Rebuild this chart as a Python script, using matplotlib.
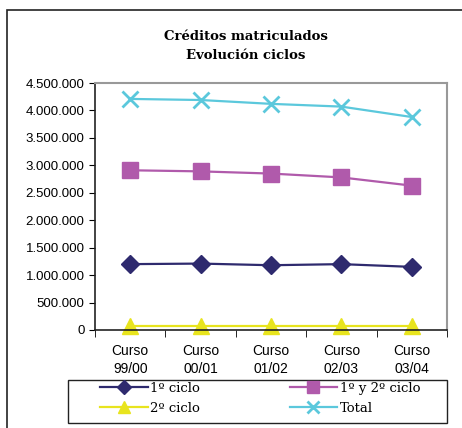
import matplotlib.pyplot as plt
from matplotlib.patches import Rectangle

cursos = ["Curso\n99/00", "Curso\n00/01", "Curso\n01/02", "Curso\n02/03", "Curso\n03/04"]
primer_ciclo = [1200000, 1210000, 1180000, 1200000, 1150000]
primer_segundo = [2910000, 2890000, 2850000, 2780000, 2630000]
segundo_ciclo = [80000, 80000, 80000, 80000, 80000]
total = [4210000, 4190000, 4120000, 4070000, 3880000]
yticks = [0, 500000, 1000000, 1500000, 2000000, 2500000, 3000000, 3500000, 4000000, 4500000]

fig = plt.figure(figsize=(4.62, 4.28), dpi=100)
ax = fig.add_axes([95 / 462, 1 - 330 / 428, 352 / 462, 247 / 428])

# outer frame (only left and top visible)
fig.patches.append(Rectangle((7 / 462, -0.1), 1.2, 1 - 10 / 428 + 0.1,
                             transform=fig.transFigure, fill=False,
                             edgecolor="#222222", linewidth=1.2))
# legend box
fig.patches.append(Rectangle((68 / 462, 1 - 423 / 428), 379 / 462, 43 / 428,
                             transform=fig.transFigure, fill=False,
                             edgecolor="#222222", linewidth=1.0))

x = list(range(len(cursos)))
l1, = ax.plot(x, primer_ciclo, color="#2E2A6E", marker="D", markersize=9, lw=1.6)
l2, = ax.plot(x, primer_segundo, color="#B05AAB", marker="s", markersize=11, lw=1.6)
l3, = ax.plot(x, segundo_ciclo, color="#E8E41E", marker="^", markersize=12, lw=1.6,
              clip_on=False)
l4, = ax.plot(x, total, color="#5BC8DC", marker="x", markersize=11, mew=2, lw=1.6)

ax.set_xlim(-0.5, len(cursos) - 0.5)
ax.set_ylim(0, 4500000)
ax.set_yticks(yticks)
ax.set_yticklabels(["{:,}".format(v).replace(",", ".") for v in yticks],
                   fontname="Liberation Sans", fontsize=9.5)
ax.set_xticks(x)
ax.set_xticklabels(cursos, fontname="Liberation Sans", fontsize=10, linespacing=1.35)
ax.tick_params(axis="x", length=0, pad=10)
ax.set_xticks([i - 0.5 for i in range(len(cursos) + 1)], minor=True)
ax.tick_params(axis="x", which="minor", length=5, direction="out")
ax.tick_params(axis="y", length=4, direction="out")
for s in ["top", "right"]:
    ax.spines[s].set_color("#999999")
    ax.spines[s].set_linewidth(1.5)
for s in ["left", "bottom"]:
    ax.spines[s].set_color("#222222")
    ax.spines[s].set_linewidth(1.2)

fig.text(246 / 462, 1 - 46 / 428, "Créditos matriculados\nEvolución ciclos",
         ha="center", va="center", fontsize=9.5, fontweight="bold",
         family="DejaVu Serif", linespacing=1.6)

leg = fig.legend([l1, l3, l2, l4], ["1º ciclo", "2º ciclo", "1º y 2º ciclo", "Total"],
                 ncol=2, loc="upper left",
                 bbox_to_anchor=(100 / 462, 1 - 382 / 428),
                 frameon=False, prop={"family": "DejaVu Serif", "size": 9.5},
                 handlelength=3.6, borderaxespad=0, handletextpad=0.2,
                 labelspacing=0.5, borderpad=0, columnspacing=6.8,
                 markerscale=0.75)

fig.savefig("out.png", dpi=100)
